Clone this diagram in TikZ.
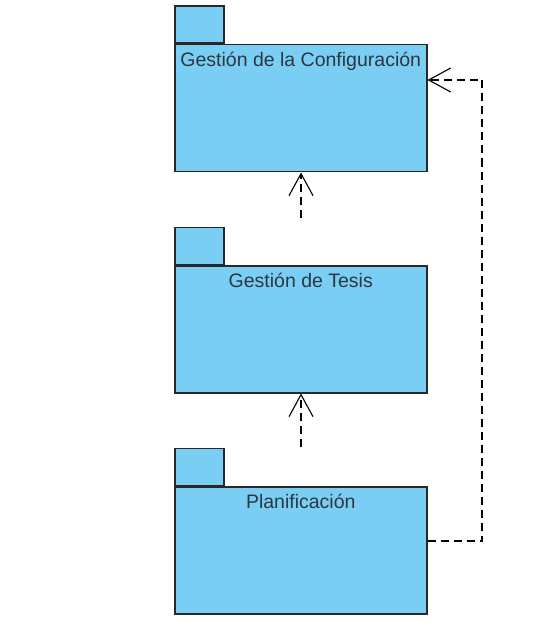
\documentclass[tikz,border=0pt]{standalone}
\usepackage{fontspec}
\setmainfont{Liberation Sans}
\usetikzlibrary{arrows.meta}
\definecolor{pkgfill}{RGB}{122,206,243}
\definecolor{pkgline}{RGB}{40,40,40}
\definecolor{pkgtext}{RGB}{45,55,65}
\tikzset{
  pkgbody/.style={draw=pkgline, fill=pkgfill, line width=1.5pt, minimum width=252pt, minimum height=127pt, anchor=north west, inner sep=0pt},
  pkgtab/.style={draw=pkgline, fill=pkgfill, line width=1.5pt, minimum width=49pt, minimum height=37pt, anchor=south west, inner sep=0pt},
  pkglabel/.style={anchor=north, text=pkgtext, font=\fontsize{19.5}{22}\selectfont, inner sep=0pt},
  depend/.style={draw=black, line width=1.1pt, dash pattern=on 8pt off 5pt, -{Straight Barb[length=22pt,width=24pt,line width=1.1pt]}}
}
\begin{document}
\begin{tikzpicture}[x=1pt,y=-1pt]
\useasboundingbox (0,0) rectangle (541,631);
% package 1
\node[pkgbody] (p1) at (174,44) {};
\node[pkgtab] (t1) at (p1.north west) {};
\node[pkglabel] (l1) at ([yshift=-8pt]p1.north) {Gestión de la Configuración};
% package 2
\node[pkgbody] (p2) at (174,265) {};
\node[pkgtab] (t2) at (p2.north west) {};
\node[pkglabel] (l2) at ([yshift=-8pt]p2.north) {Gestión de Tesis};
% package 3
\node[pkgbody] (p3) at (174,486) {};
\node[pkgtab] (t3) at (p3.north west) {};
\node[pkglabel] (l3) at ([yshift=-8pt]p3.north) {Planificación};
% connectors
\coordinate (s2) at (301,218);
\coordinate (s3) at (301,447);
\draw[depend] (s2) -- (s2 |- p1.south);
\draw[depend] (s3) -- (s3 |- p2.south);
\coordinate (c1) at (482,541);
\coordinate (c2) at (482,80);
\draw[depend] (p3.east |- c1) -- (c1) -- (c2) -- (p1.east |- c2);
\end{tikzpicture}
\end{document}
